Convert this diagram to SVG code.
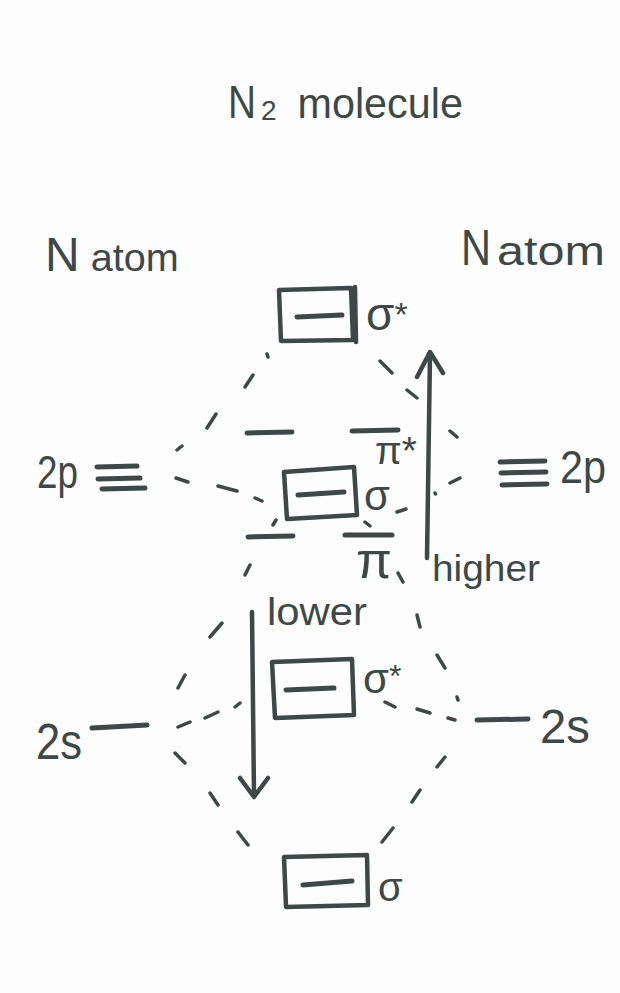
<svg xmlns="http://www.w3.org/2000/svg" width="620" height="993" viewBox="0 0 620 993">
<style>
.ink{fill:none;stroke:#3e4947;stroke-width:4.5;stroke-linecap:round;stroke-linejoin:round}
.lvl{fill:none;stroke:#3e4947;stroke-width:5;stroke-linecap:round}
.dash{fill:none;stroke:#3e4947;stroke-width:3.5;stroke-linecap:round}
text{font-family:"Liberation Sans","DejaVu Sans",sans-serif;fill:#3e4947}
</style>
<rect width="620" height="993" fill="#fdfdfd"/>
<g id="title">
<text y="118"><tspan x="228" font-size="46" textLength="28" lengthAdjust="spacingAndGlyphs">N</tspan><tspan x="261" y="120" font-size="28">2</tspan><tspan x="286" y="118" font-size="42" textLength="177" lengthAdjust="spacingAndGlyphs"> molecule</tspan></text>
</g>
<g id="label-left-atom">
<text x="45" y="271"><tspan font-size="48">N</tspan><tspan font-size="38" textLength="99" lengthAdjust="spacingAndGlyphs"> atom</tspan></text>
</g>
<g id="label-right-atom">
<text y="265"><tspan x="461" font-size="50" textLength="30" lengthAdjust="spacingAndGlyphs">N</tspan><tspan x="497" font-size="40" textLength="108" lengthAdjust="spacingAndGlyphs">atom</tspan></text>
</g>
<g id="ao-2p-left">
<text x="37" y="488" font-size="46" textLength="41" lengthAdjust="spacingAndGlyphs">2p</text>
<path class="lvl" d="M97,467 L137,466 M98,479 L140,478 M102,489 L145,488"/>
</g>
<g id="ao-2p-right">
<text x="560" y="483" font-size="46" textLength="46" lengthAdjust="spacingAndGlyphs">2p</text>
<path class="lvl" d="M500,462 L545,461 M501,473 L546,472 M502,485 L547,484"/>
</g>
<g id="ao-2s-left">
<text x="36" y="759" font-size="50" textLength="46" lengthAdjust="spacingAndGlyphs">2s</text>
<path class="lvl" d="M92,728 L147,725"/>
</g>
<g id="ao-2s-right">
<text x="540" y="743" font-size="48" textLength="50" lengthAdjust="spacingAndGlyphs">2s</text>
<path class="lvl" d="M477,720 L528,719"/>
</g>
<g id="mo-sigma-star-2p">
<path class="ink" d="M279,290 L351,288 L353,340 L281,341 Z M355,287 L356,342"/>
<path class="lvl" d="M297,317 L342,315"/>
<text x="366" y="330" font-size="46">σ<tspan font-size="34" dy="-4">*</tspan></text>
</g>
<g id="mo-pi-star-2p">
<path class="lvl" d="M247,433 L292,432 M352,431 L398,430"/>
<text x="375" y="464" font-size="38" textLength="42" lengthAdjust="spacingAndGlyphs">π*</text>
</g>
<g id="mo-sigma-2p">
<path class="ink" d="M284,472 L354,467 L357,515 L287,519 Z"/>
<path class="lvl" d="M298,495 L344,492"/>
<text x="364" y="510" font-size="42">σ</text>
</g>
<g id="mo-pi-2p">
<path class="lvl" d="M248,537 L293,536 M345,535 L392,535"/>
<text x="356" y="578" font-size="52" textLength="36" lengthAdjust="spacingAndGlyphs">π</text>
</g>
<g id="mo-sigma-star-2s">
<path class="ink" d="M272,662 L352,659 L354,715 L275,718 Z"/>
<path class="lvl" d="M286,690 L334,688"/>
<text x="363" y="693" font-size="42">σ<tspan font-size="32" dy="-6">*</tspan></text>
</g>
<g id="mo-sigma-2s">
<path class="ink" d="M284,857 L367,855 L368,905 L286,907 Z"/>
<path class="lvl" d="M303,885 L352,881"/>
<text x="378" y="901" font-size="40">σ</text>
</g>
<g id="arrow-higher">
<path class="ink" d="M427,558 L430,355 M417,377 L430,352 L443,373"/>
<text x="432" y="581" font-size="36" textLength="108" lengthAdjust="spacingAndGlyphs">higher</text>
</g>
<g id="arrow-lower">
<path class="ink" d="M252,612 L254,795 M240,778 L254,797 L268,778"/>
<text x="267" y="625" font-size="38" textLength="100" lengthAdjust="spacingAndGlyphs">lower</text>
</g>
<g id="connectors">
<path class="dash" d="M267,354 L268,357 M245,387 L253,375 M207,428 L216,414 M177,450 L182,446
M380,361 L392,373 M407,390 L417,398 M450,431 L457,437
M176,478 L188,482 M218,486 L237,491 M255,498 L262,501
M450,483 L460,478 M435,493 L435.5,494 M397,512 L406,509
M273,525 L276,520 M365,522 L370,526
M245,575 L250,565 M398,573 L403,582
M210,637 L222,623 M178,688 L185,675 M205,718 L218,712 M235,707 L240,703 M178,727 L190,722 M175,753 L185,763 M210,793 L218,805 M238,832 L248,845
M417,615 L420,627 M437,655 L445,668 M457,697 L458,700 M385,702 L395,707 M417,709 L430,713 M448,718 L455,720 M445,757 L437,767 M420,790 L412,802 M393,828 L382,842"/>
</g>
</svg>
